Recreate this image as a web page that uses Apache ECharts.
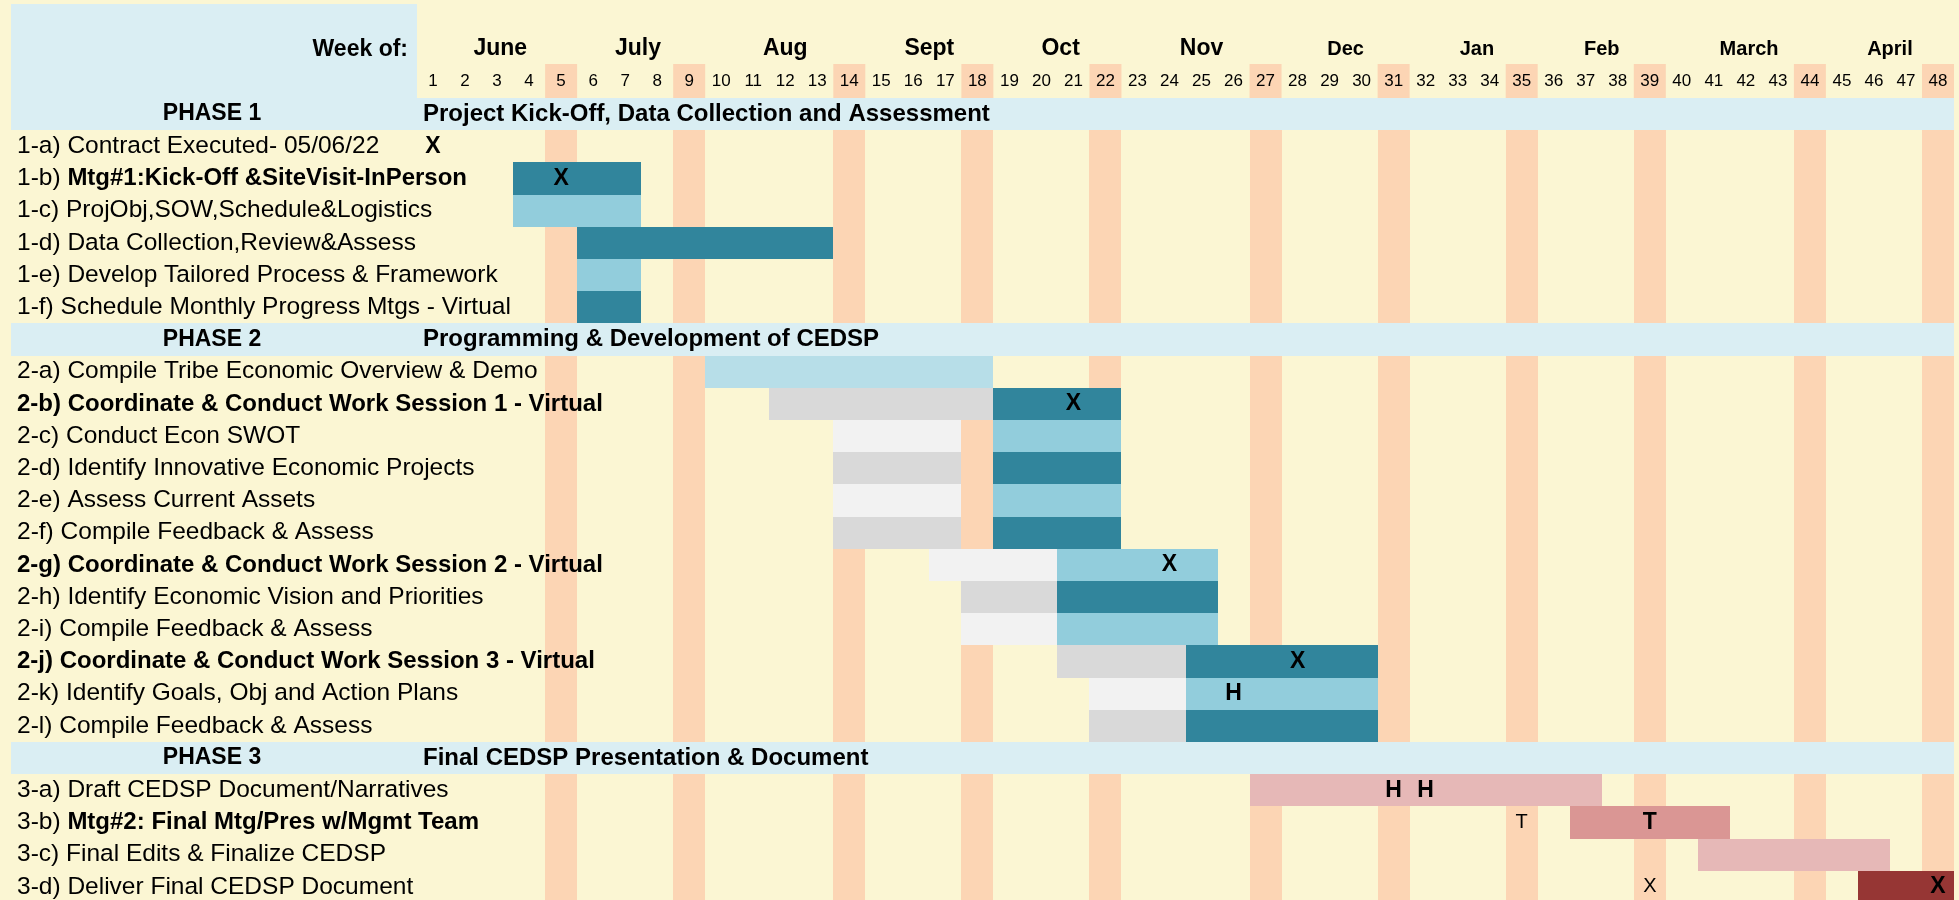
<!DOCTYPE html>
<html>
<head>
<meta charset="utf-8">
<title>CEDSP schedule</title>
<script src="https://cdn.jsdelivr.net/npm/echarts@6/dist/echarts.min.js"></script>
<style>
  html, body { margin: 0; padding: 0; background: #FBF6D3; }
  #chart { width: 1959px; height: 900px; }
</style>
</head>
<body>
<div id="chart"></div>
<script>
// week tick labels
const weeks = ['1', '2', '3', '4', '5', '6', '7', '8', '9', '10', '11', '12', '13', '14', '15', '16',
  '17', '18', '19', '20', '21', '22', '23', '24', '25', '26', '27', '28', '29', '30', '31', '32',
  '33', '34', '35', '36', '37', '38', '39', '40', '41', '42', '43', '44', '45', '46', '47', '48']
// shaded weeks (last week of each month)
const highlightWeeks = [5, 9, 14, 18, 22, 27, 31, 35, 39, 44, 48]
// month headings and where they sit, in weeks
const months = ['June', 'July', 'Aug', 'Sept', 'Oct', 'Nov', 'Dec', 'Jan', 'Feb', 'March', 'April']
const monthAt = [2.6, 6.9, 11.5, 16.0, 20.1, 24.5, 29.0, 33.1, 37.0, 41.6, 46.0]

const rowLabels = [
  'PHASE 1',
  '1-a) Contract Executed- 05/06/22',
  '1-b) Mtg#1:Kick-Off &SiteVisit-InPerson',
  '1-c) ProjObj,SOW,Schedule&Logistics',
  '1-d) Data Collection,Review&Assess',
  '1-e) Develop Tailored Process & Framework',
  '1-f) Schedule Monthly Progress Mtgs - Virtual',
  'PHASE 2',
  '2-a) Compile Tribe Economic Overview & Demo',
  '2-b) Coordinate & Conduct Work Session 1 - Virtual',
  '2-c) Conduct Econ SWOT',
  '2-d) Identify Innovative Economic Projects',
  '2-e) Assess Current Assets',
  '2-f) Compile Feedback & Assess',
  '2-g) Coordinate & Conduct Work Session 2 - Virtual',
  '2-h) Identify Economic Vision and Priorities',
  '2-i) Compile Feedback & Assess',
  '2-j) Coordinate & Conduct Work Session 3 - Virtual',
  '2-k) Identify Goals, Obj and Action Plans',
  '2-l) Compile Feedback & Assess',
  'PHASE 3',
  '3-a) Draft CEDSP Document/Narratives',
  '3-b) Mtg#2: Final Mtg/Pres w/Mgmt Team',
  '3-c) Final Edits & Finalize CEDSP',
  '3-d) Deliver Final CEDSP Document'
]
const phaseTitles = {
  'PHASE 1': 'Project Kick-Off, Data Collection and Assessment',
  'PHASE 2': 'Programming & Development of CEDSP',
  'PHASE 3': 'Final CEDSP Presentation & Document'
}
// meetings are written in bold
const boldRows = { '1-b': 'tail', '2-b': 'all', '2-g': 'all', '2-j': 'all', '3-b': 'tail' }

// [task, first week, last week, kind]
const segments = [
  ['1-b', 4, 7, 'dark'],
  ['1-c', 4, 7, 'mid'],
  ['1-d', 6, 13, 'dark'],
  ['1-e', 6, 7, 'mid'],
  ['1-f', 6, 7, 'dark'],
  ['2-a', 10, 18, 'pale'],
  ['2-b', 12, 18, 'grey'], ['2-b', 19, 22, 'dark'],
  ['2-c', 14, 17, 'ghost'], ['2-c', 19, 22, 'mid'],
  ['2-d', 14, 17, 'grey'], ['2-d', 19, 22, 'dark'],
  ['2-e', 14, 17, 'ghost'], ['2-e', 19, 22, 'mid'],
  ['2-f', 14, 17, 'grey'], ['2-f', 19, 22, 'dark'],
  ['2-g', 17, 20, 'ghost'], ['2-g', 21, 25, 'mid'],
  ['2-h', 18, 20, 'grey'], ['2-h', 21, 25, 'dark'],
  ['2-i', 18, 20, 'ghost'], ['2-i', 21, 25, 'mid'],
  ['2-j', 21, 24, 'grey'], ['2-j', 25, 30, 'dark'],
  ['2-k', 22, 24, 'ghost'], ['2-k', 25, 30, 'mid'],
  ['2-l', 22, 24, 'grey'], ['2-l', 25, 30, 'dark'],
  ['3-a', 27, 37, 'rose'],
  ['3-b', 37, 41, 'roseDeep'],
  ['3-c', 41, 46, 'rose'],
  ['3-d', 46, 48, 'wine']
]
// [task, week, mark, bold]
const markers = [
  ['1-a', 1, 'X', true],
  ['1-b', 5, 'X', true],
  ['2-b', 21, 'X', true],
  ['2-g', 24, 'X', true],
  ['2-j', 28, 'X', true],
  ['2-k', 26, 'H', true],
  ['3-a', 31, 'H', true],
  ['3-a', 32, 'H', true],
  ['3-b', 35, 'T', false],
  ['3-b', 39, 'T', true],
  ['3-d', 39, 'X', false],
  ['3-d', 48, 'X', true]
]

const palette = {
  dark: '#31859C', mid: '#92CDDC', pale: '#B7DEE8', grey: '#D9D9D9', ghost: '#F2F2F2',
  rose: '#E6B8B7', roseDeep: '#DA9694', wine: '#963634'
}
const FONT = '"Liberation Sans", Arial, sans-serif'
const CREAM = '#FBF6D3'
const TAN = '#FCD5B4'
const PHASE_BG = '#DAEEF3'
const LABEL_W = 406 // label column width, left of week 1

function rowIndex(code) {
  return rowLabels.findIndex(l => l.startsWith(code + ')'))
}
const phaseRows = rowLabels.map((l, i) => (phaseTitles[l] ? i : -1)).filter(i => i >= 0)

const chart = echarts.init(document.getElementById('chart'))

function rowLabel(label) {
  if (phaseTitles[label]) return '{ph|' + label + '}'
  const mode = boldRows[label.slice(0, 3)]
  if (mode === 'all') return '{b|' + label + '}'
  if (mode === 'tail') {
    const cut = label.indexOf(') ') + 2
    return label.slice(0, cut) + '{b|' + label.slice(cut) + '}'
  }
  return label
}

chart.setOption({
  backgroundColor: CREAM,
  animation: false,
  textStyle: { fontFamily: FONT },
  graphic: [
    {
      type: 'rect', z: 0,
      shape: { x: 11, y: 4, width: LABEL_W, height: 94 },
      style: { fill: PHASE_BG }
    },
    {
      type: 'text', z: 1, x: 408, y: 50,
      style: {
        text: 'Week of:', fill: '#000', fontFamily: FONT, fontSize: 23, fontWeight: 'bold',
        align: 'right', verticalAlign: 'middle'
      }
    }
  ],
  grid: { left: 417, top: 98, width: 1537, height: 805, outerBoundsMode: 'none' },
  xAxis: [
    { type: 'value', min: 0, max: 48, show: false },
    {
      type: 'category', data: weeks, position: 'top',
      axisLine: { show: false }, axisTick: { show: false }, splitLine: { show: false },
      axisLabel: {
        interval: 0, margin: 0,
        formatter: v => (highlightWeeks.includes(+v) ? '{h|' + v + '}' : '{n|' + v + '}'),
        rich: {
          h: { backgroundColor: TAN, width: 32, height: 34, lineHeight: 34, align: 'center', fontSize: 17, color: '#000', fontFamily: FONT },
          n: { width: 32, height: 34, lineHeight: 34, align: 'center', fontSize: 17, color: '#000', fontFamily: FONT }
        }
      }
    },
    {
      type: 'value', min: 0, max: 48, position: 'top', offset: 36,
      axisLine: { show: false }, axisTick: { show: false }, splitLine: { show: false },
      axisLabel: {
        margin: 0, customValues: monthAt, showMinLabel: true, showMaxLabel: true, hideOverlap: false,
        formatter: v => {
          const i = monthAt.indexOf(v)
          if (i < 0) return ''
          return (i >= 6 ? '{s|' : '{m|') + months[i] + '}'
        },
        rich: {
          m: { fontSize: 23, fontWeight: 'bold', color: '#000', fontFamily: FONT, lineHeight: 26 },
          s: { fontSize: 20, fontWeight: 'bold', color: '#000', fontFamily: FONT, lineHeight: 26 }
        }
      }
    }
  ],
  yAxis: {
    type: 'category', inverse: true, data: rowLabels, z: 10,
    axisLine: { show: false }, axisTick: { show: false }, splitLine: { show: false },
    axisLabel: {
      interval: 0, align: 'left', margin: 400, color: '#000', fontSize: 24.5, fontFamily: FONT,
      formatter: rowLabel,
      rich: {
        b: { fontWeight: 'bold', fontSize: 24, color: '#000', fontFamily: FONT },
        ph: { fontWeight: 'bold', fontSize: 23, color: '#000', fontFamily: FONT, width: 390, align: 'center' }
      }
    }
  },
  series: [
    {
      // shaded week columns
      type: 'custom', z: 1, silent: true,
      data: highlightWeeks.map(w => [w - 1, 0, w]),
      renderItem(params, api) {
        const x0 = Math.round(api.coord([api.value(0), 0])[0])
        const x1 = Math.round(api.coord([api.value(2), 0])[0])
        const cs = params.coordSys
        return { type: 'rect', shape: { x: x0, y: cs.y, width: x1 - x0, height: cs.height }, style: { fill: TAN } }
      }
    },
    {
      // task bars
      type: 'custom', z: 3, silent: true,
      data: segments.map(s => [s[1] - 1, rowIndex(s[0]), s[2]]),
      renderItem(params, api) {
        const p0 = api.coord([api.value(0), api.value(1)])
        const p1 = api.coord([api.value(2), api.value(1)])
        const h = api.size([0, 1])[1]
        const x0 = Math.round(p0[0]), x1 = Math.round(p1[0])
        const y0 = Math.round(p0[1] - h / 2), y1 = Math.round(p0[1] + h / 2)
        return {
          type: 'rect',
          shape: { x: x0, y: y0, width: x1 - x0, height: y1 - y0 },
          style: { fill: palette[segments[params.dataIndex][3]] }
        }
      }
    },
    {
      // phase header rows
      type: 'custom', z: 4, silent: true,
      data: phaseRows.map(r => [0, r, 48]),
      renderItem(params, api) {
        const p0 = api.coord([api.value(0), api.value(1)])
        const p1 = api.coord([api.value(2), api.value(1)])
        const h = api.size([0, 1])[1]
        const y0 = Math.round(p0[1] - h / 2), y1 = Math.round(p0[1] + h / 2)
        const title = phaseTitles[rowLabels[api.value(1)]]
        return {
          type: 'group',
          children: [
            { type: 'rect', shape: { x: Math.round(p0[0]) - LABEL_W, y: y0, width: Math.round(p1[0]) - Math.round(p0[0]) + LABEL_W, height: y1 - y0 }, style: { fill: PHASE_BG } },
            {
              type: 'text', x: p0[0] + 6, y: p0[1],
              style: { text: title, fill: '#000', fontFamily: FONT, fontSize: 24, fontWeight: 'bold', align: 'left', verticalAlign: 'middle' }
            }
          ]
        }
      }
    },
    {
      // X / H / T marks
      type: 'custom', z: 5, silent: true,
      data: markers.map(m => [m[1] - 0.5, rowIndex(m[0])]),
      renderItem(params, api) {
        const m = markers[params.dataIndex]
        const p = api.coord([api.value(0), api.value(1)])
        return {
          type: 'text', x: p[0], y: p[1],
          style: {
            text: m[2], fill: '#000', fontFamily: FONT,
            fontSize: m[3] ? 23 : 20, fontWeight: m[3] ? 'bold' : 'normal',
            align: 'center', verticalAlign: 'middle'
          }
        }
      }
    }
  ]
})
</script>
</body>
</html>
